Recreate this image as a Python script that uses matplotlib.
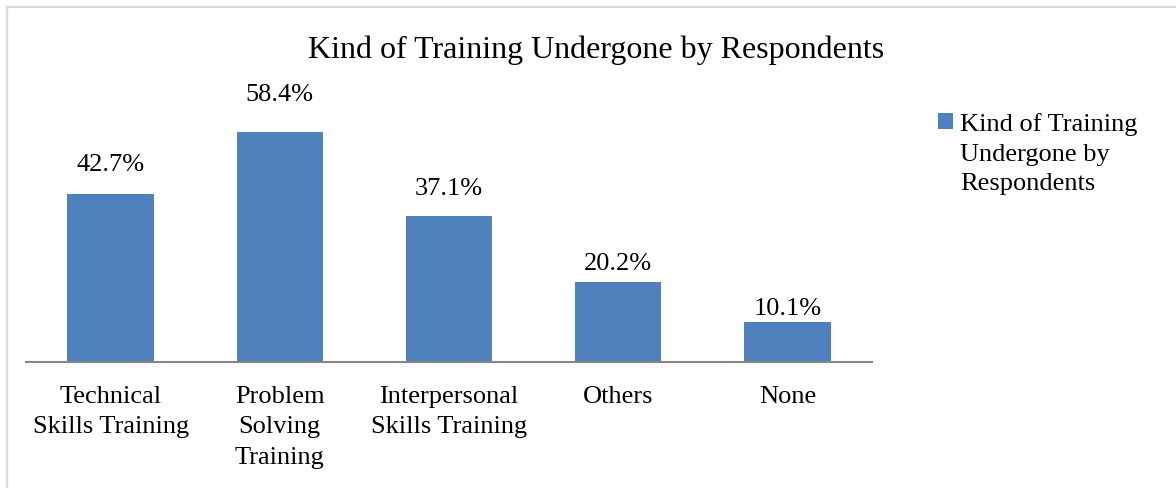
import matplotlib
matplotlib.use("Agg")
import matplotlib.pyplot as plt
from matplotlib.lines import Line2D

categories = ["Technical\nSkills Training", "Problem\nSolving\nTraining",
              "Interpersonal\nSkills Training", "Others", "None"]
values = [42.7, 58.4, 37.1, 20.2, 10.1]
series_name = "Kind of Training Undergone by Respondents"
legend_label = "Kind of Training\nUndergone by\nRespondents"

plt.rcParams['font.family'] = ['Liberation Serif', 'DejaVu Serif']

W, H = 1176, 488
fig = plt.figure(figsize=(W / 100, H / 100), dpi=100)
ax = fig.add_axes([26 / W, 1 - 362 / H, (872 - 26) / W, (362 - 86) / H])

blue = "#4F81BD"
x = range(len(values))
bars = ax.bar(x, values, width=0.51, color=blue, label=legend_label)
ax.set_xlim(-0.5, len(values) - 0.5)
ax.set_ylim(0, 70)

for i, v in enumerate(values):
    ax.annotate(f"{v:.1f}%", xy=(i, v * 1.12), xytext=(0, 2),
                textcoords="offset points", ha="center", va="baseline",
                fontsize=19)

ax.set_xticks(list(x))
ax.set_xticklabels(categories, fontsize=19, linespacing=1.5)
ax.tick_params(axis="x", length=0, pad=17)
ax.set_yticks([])
for s in ["top", "right", "left"]:
    ax.spines[s].set_visible(False)
ax.spines["bottom"].set_color("#868686")
ax.spines["bottom"].set_linewidth(1.5)

fig.text(596 / W, 1 - 58 / H, series_name, ha="center", va="baseline",
         fontsize=23)

leg = fig.legend(handles=[bars], labels=[legend_label], loc="upper left",
                 bbox_to_anchor=(938 / W, 1 - 113 / H), frameon=False,
                 fontsize=19, handlelength=0.55, handleheight=0.55,
                 handletextpad=0.3, borderaxespad=0, borderpad=0)
for t in leg.get_texts():
    t.set_linespacing(1.45)
# put the square next to the first line, as in the original
for row in leg._legend_handle_box.get_children():
    for pk in row.get_children():
        pk.align = "top"

# light grey chart frame
fig.add_artist(Line2D([7 / W, 7 / W], [0, 1 - 7 / H], color="#d9d9d9", lw=1.6))
fig.add_artist(Line2D([7 / W, 1], [1 - 7 / H, 1 - 7 / H], color="#d9d9d9", lw=1.6))

fig.savefig("out.png", dpi=100)
